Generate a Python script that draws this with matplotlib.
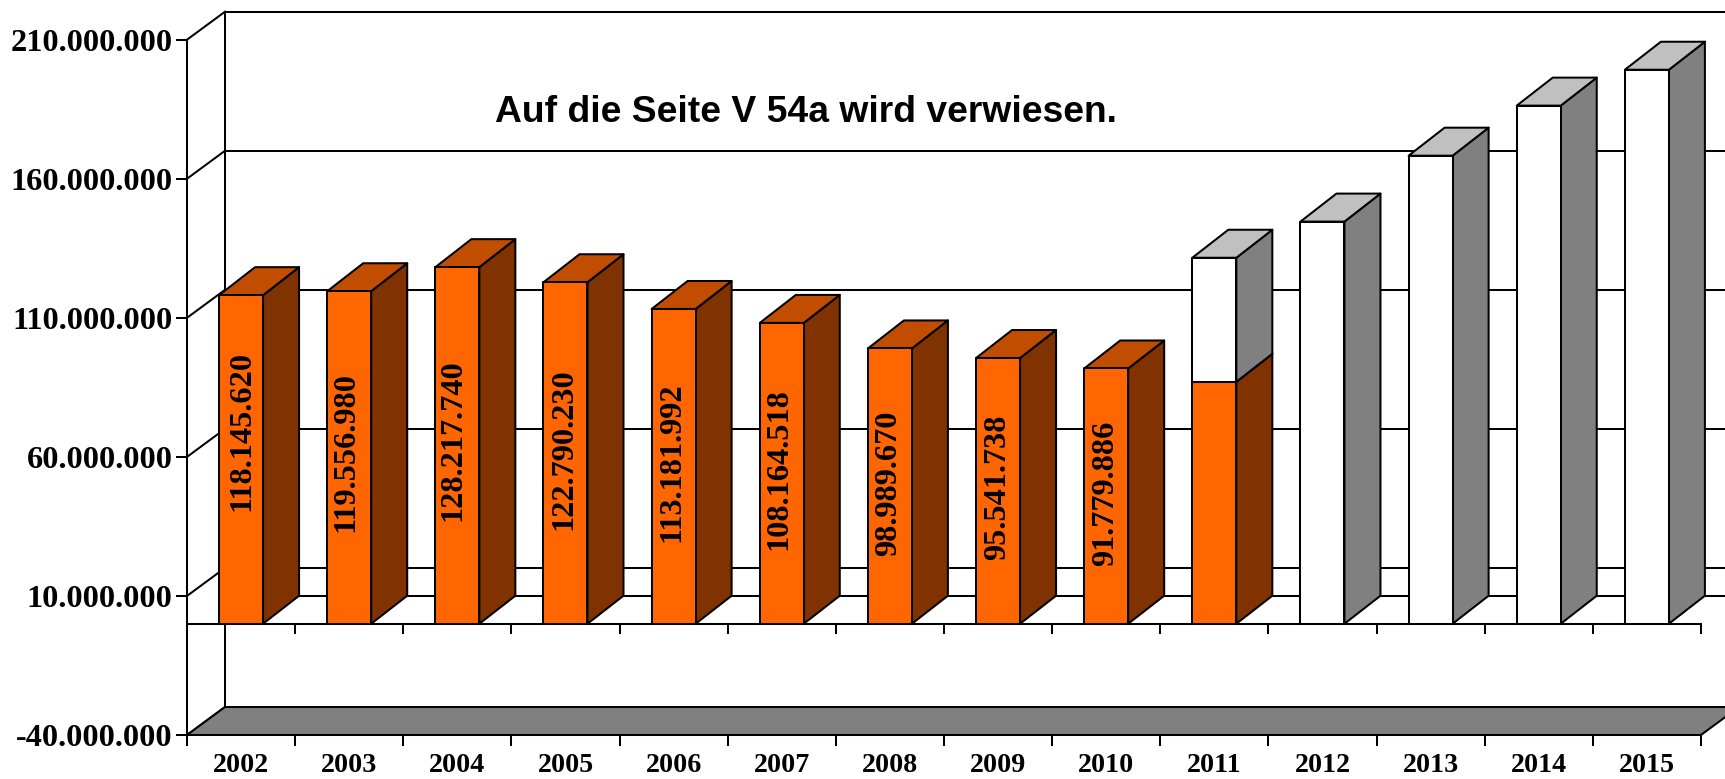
import matplotlib
matplotlib.use('Agg')
import matplotlib.pyplot as plt
from matplotlib.patches import Polygon

years = ['2002', '2003', '2004', '2005', '2006', '2007', '2008', '2009', '2010', '2011',
         '2012', '2013', '2014', '2015']
actual = [118145620, 119556980, 128217740, 122790230, 113181992, 108164518, 98989670,
          95541738, 91779886, 87000000, 0, 0, 0, 0]
forecast = [0, 0, 0, 0, 0, 0, 0, 0, 0, 44600000, 144600000, 168300000, 186300000, 199200000]
value_labels = ['118.145.620', '119.556.980', '128.217.740', '122.790.230', '113.181.992',
                '108.164.518', '98.989.670', '95.541.738', '91.779.886']
y_ticks = [-40000000, 10000000, 60000000, 110000000, 160000000, 210000000]
y_tick_labels = ['-40.000.000', '10.000.000', '60.000.000', '110.000.000', '160.000.000', '210.000.000']

W, H = 1725, 779
# pixel layout measured on the reference
x0_px, cat_px = 187.0, 108.14
y_bot_px, y_top_px = 735.0, 39.7
px_per_unit = (y_bot_px - y_top_px) / (y_ticks[-1] - y_ticks[0])


def px_x(px):
    return (px - x0_px) / cat_px


def px_y(px):
    return y_ticks[0] + (y_bot_px - px) / px_per_unit


wall_dx, wall_dy = 38 / cat_px, 28 / px_per_unit
bar_dx, bar_dy = 36 / cat_px, 28 / px_per_unit
bar_w = 44 / cat_px
lw = 1.45

fig = plt.figure(figsize=(W / 100, H / 100), dpi=100, facecolor='white')
ax = fig.add_axes([0, 0, 1, 1])
ax.set_xlim(px_x(0), px_x(W))
ax.set_ylim(px_y(H), px_y(0))
ax.patch.set_alpha(0)

# back wall, floor
n = len(years)
for v in y_ticks:
    ax.plot([0, wall_dx], [v, v + wall_dy], color='k', lw=lw, zorder=1)
    ax.plot([wall_dx, n + 1], [v + wall_dy, v + wall_dy], color='k', lw=lw, zorder=1)
ax.plot([wall_dx, n + 1], [wall_dy, wall_dy], color='k', lw=lw, zorder=1)
ax.plot([wall_dx, wall_dx], [y_ticks[0] + wall_dy, y_ticks[-1] + wall_dy], color='k', lw=lw, zorder=1)
ax.add_patch(Polygon([(0, y_ticks[0]), (n, y_ticks[0]), (n + wall_dx, y_ticks[0] + wall_dy),
                      (wall_dx, y_ticks[0] + wall_dy)], fc='#808080', ec='k', lw=lw, zorder=1.5))


def draw_box(x, y0, y1, front, side, top, z):
    ax.add_patch(Polygon([(x + bar_w, y0), (x + bar_w + bar_dx, y0 + bar_dy),
                          (x + bar_w + bar_dx, y1 + bar_dy), (x + bar_w, y1)],
                         fc=side, ec='k', lw=lw, joinstyle='round', zorder=z))
    ax.add_patch(Polygon([(x, y1), (x + bar_w, y1), (x + bar_w + bar_dx, y1 + bar_dy),
                          (x + bar_dx, y1 + bar_dy)], fc=top, ec='k', lw=lw, joinstyle='round', zorder=z))
    ax.add_patch(Polygon([(x, y0), (x + bar_w, y0), (x + bar_w, y1), (x, y1)],
                         fc=front, ec='k', lw=lw, joinstyle='round', zorder=z + 0.1))


for i in range(n):
    x = i + 0.5 - bar_w / 2
    if actual[i]:
        draw_box(x, 0, actual[i], '#FF6600', '#803300', '#C04D00', 3 + i * 0.01)
    if forecast[i]:
        draw_box(x, actual[i], actual[i] + forecast[i], 'white', '#808080', '#C0C0C0', 3.5 + i * 0.01)

# zero plane line with its ticks
ax.plot([0, n], [0, 0], color='k', lw=lw, zorder=4)
ax.vlines(range(n + 1), px_y(634), 0, color='k', lw=lw, zorder=2)

# labels inside the bars (centres measured on the reference)
label_x_px = [241.7, 345.7, 453.3, 564, 671.7, 779, 889, 997.7, 1106]
label_y_px = [430.5, 452.5, 440.5, 449, 462.5, 469, 483, 487, 493]
for t, xp, yp in zip(value_labels, label_x_px, label_y_px):
    ax.text(px_x(xp), px_y(yp), t, rotation=90, ha='center', va='center', family='Liberation Serif',
            weight='bold', fontsize=23.3, color='k', zorder=6)

ax.text(px_x(805.6), px_y(112), 'Auf die Seite V 54a wird verwiesen.', ha='center', va='center',
        family='Liberation Sans', weight='bold', fontsize=26.8, color='k', zorder=6)

# axes
for s in ['top', 'right']:
    ax.spines[s].set_visible(False)
ax.spines['left'].set_position(('data', 0))
ax.spines['left'].set_bounds(y_ticks[0], y_ticks[-1])
ax.spines['bottom'].set_position(('data', y_ticks[0]))
ax.spines['bottom'].set_bounds(0, n)
for s in ['left', 'bottom']:
    ax.spines[s].set_linewidth(lw)
ax.set_yticks(y_ticks)
ax.set_yticklabels(y_tick_labels, family='Liberation Serif', weight='bold', fontsize=23.3)
ax.tick_params(axis='y', direction='out', length=8, width=lw, pad=2.5)
ax.set_xticks(range(n + 1))
ax.set_xticklabels([])
ax.set_xticks([i + 0.5 for i in range(n)], minor=True)
ax.set_xticklabels(years, minor=True, family='Liberation Serif', weight='bold', fontsize=20.2)
ax.tick_params(axis='x', which='major', direction='out', length=8, width=lw)
ax.tick_params(axis='x', which='minor', length=0, pad=13)

fig.savefig('out.png', dpi=100)
